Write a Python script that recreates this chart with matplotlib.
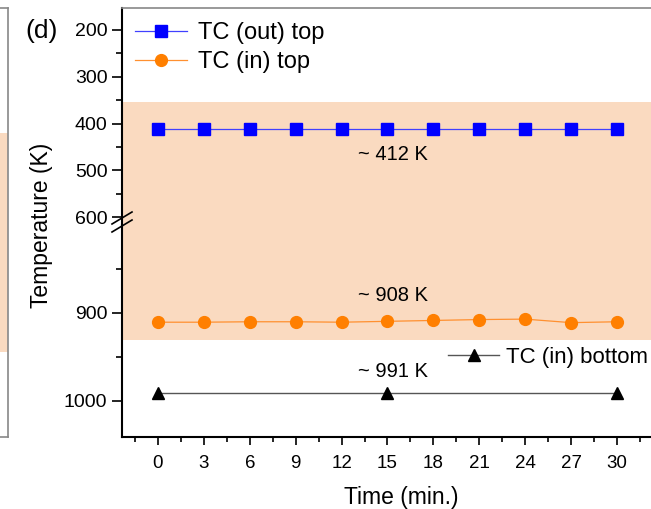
import matplotlib.pyplot as plt
from matplotlib.lines import Line2D
import numpy as np

plt.rcParams['font.family'] = ['Liberation Sans', 'DejaVu Sans']

# data
time_min = [0, 3, 6, 9, 12, 15, 18, 21, 24, 27, 30]
tc_out_top = [412] * 11
tc_in_top = [910.5, 910.5, 910, 910, 910.5, 909.5, 908.5, 907.5, 907, 911, 910]
time_bottom = [0, 15, 30]
tc_in_bottom = [991, 991, 991]
shade_range = (353, 931)
# text, value it refers to, y position of the label
annotations = [("~ 412 K", 412, 466), ("~ 908 K", 908, 880), ("~ 991 K", 991, 967)]

W, H = 651, 509
fig = plt.figure(figsize=(W / 100, H / 100), dpi=100)


def fx(px):
    return px / W


def fy(py):
    return 1 - py / H


left, right = 122, 680
ax_top = fig.add_axes([fx(left), fy(225), fx(right - left), fy(8) - fy(225)])
ax_bot = fig.add_axes([fx(left), fy(437), fx(right - left), fy(225) - fy(437)], sharex=ax_top)

shade = '#FADAC0'
blue = '#0000FF'
orange = '#FF7F00'

for ax in (ax_top, ax_bot):
    ax.axhspan(*shade_range, color=shade, lw=0, zorder=0)
    ax.plot(time_min, tc_out_top, '-s', color='#4040FF', mfc=blue, mec=blue, ms=8, lw=0.9,
            label='TC (out) top')
    ax.plot(time_min, tc_in_top, '-o', color='#FF9030', mfc=orange, mec=orange, ms=8.5, lw=0.9,
            label='TC (in) top')
    ax.plot(time_bottom, tc_in_bottom, '-^', color='#555555', mfc='black', mec='black', ms=9,
            lw=1.0, label='TC (in) bottom')
    ax.spines['right'].set_visible(False)
    ax.spines['left'].set_linewidth(1.5)
    ax.tick_params(axis='y', which='major', direction='out', length=7, width=1.2, labelsize=14)
    ax.tick_params(axis='y', which='minor', direction='out', length=4, width=1.2)

ax_top.set_ylim(617, 153)
ax_top.set_yticks([200, 300, 400, 500, 600])
ax_top.set_yticks([250, 350, 450, 550], minor=True)
ax_top.spines['bottom'].set_visible(False)
ax_top.spines['top'].set_color('#888888')
ax_top.spines['top'].set_linewidth(1.2)
ax_top.tick_params(axis='x', which='both', bottom=False, labelbottom=False)

ax_bot.set_ylim(1041, 800)
ax_bot.set_yticks([900, 1000])
ax_bot.set_yticks([850, 950], minor=True)
ax_bot.spines['top'].set_visible(False)
ax_bot.spines['bottom'].set_linewidth(1.5)

ax_bot.set_xlim(-2.35, (right - 158) / 15.3)
ax_bot.set_xticks(np.arange(0, 31, 3))
ax_bot.set_xticks(np.arange(-1.5, 34, 3), minor=True)
ax_bot.tick_params(axis='x', which='major', direction='out', length=6, width=1.2, labelsize=13.5, pad=7)
ax_bot.tick_params(axis='x', which='minor', direction='out', length=3.5, width=1.2)
ax_bot.set_xlabel('Time (min.)', fontsize=16.5, labelpad=10)

# annotations
for txt, val, ypos in annotations:
    ax = ax_top if val < 700 else ax_bot
    ax.text(15.36, ypos, txt, fontsize=14.5, ha='center', va='center')

# y axis label and panel tag
fig.text(fx(42), fy(225), 'Temperature (K)', rotation=90, fontsize=16.5, ha='center', va='center')
fig.text(fx(42), fy(31), '(d)', fontsize=19, ha='center', va='center')

# legends
h, l = ax_top.get_legend_handles_labels()
ax_top.legend(h[:2], l[:2], loc='center left', bbox_to_anchor=(fx(135), fy(47.5)),
              bbox_transform=fig.transFigure, frameon=False, fontsize=17, borderpad=0,
              borderaxespad=0, handlelength=2.2, handletextpad=0.45, labelspacing=0.3)
h, l = ax_bot.get_legend_handles_labels()
ax_bot.legend(h[2:], l[2:], loc='center left', bbox_to_anchor=(fx(448), fy(357)),
              bbox_transform=fig.transFigure, frameon=False, fontsize=16, borderpad=0,
              borderaxespad=0, handlelength=2.3, handletextpad=0.3)

# axis break marks
for dy in (-4, 4):
    fig.add_artist(Line2D([fx(112), fx(132)], [fy(228 + dy), fy(216 + dy)], color='black', lw=1.2))

# edge of the neighbouring panel on the left
ax_prev = fig.add_axes([-0.5, fy(437), 0.5 + fx(8), fy(8) - fy(437)])
ax_prev.set_xlim(0, 1)
ax_prev.set_ylim(437, 8)
ax_prev.axhspan(133, 352, color=shade, lw=0)
ax_prev.set_xticks([])
ax_prev.set_yticks([])
for s in ax_prev.spines.values():
    s.set_color('#888888')
    s.set_linewidth(1.2)

plt.savefig('out.png', dpi=100)
